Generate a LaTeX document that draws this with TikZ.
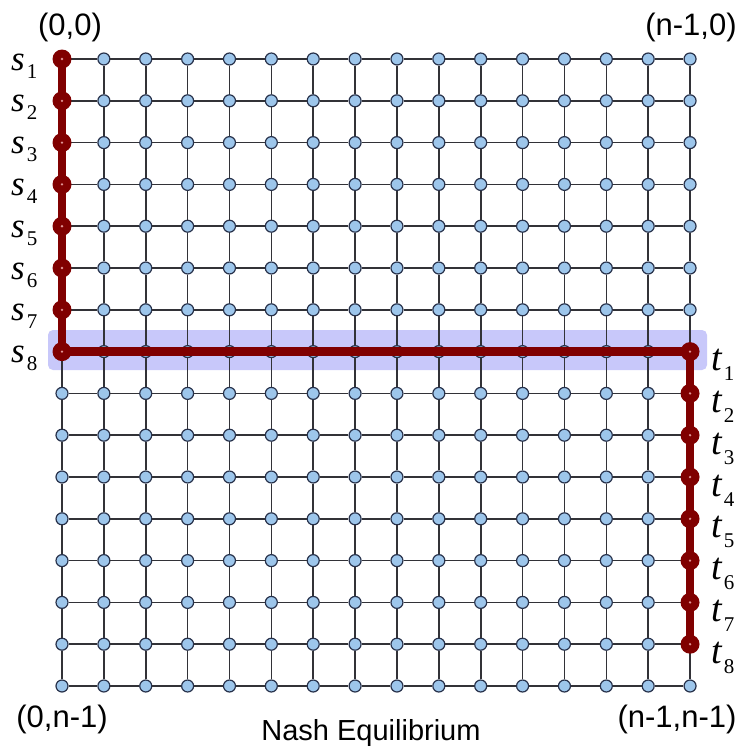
\documentclass[tikz,border=0pt]{standalone}
\usepackage{fontspec}
\setmainfont{Liberation Serif}
\newfontfamily\arialf{Liberation Sans}
\definecolor{gridgray}{RGB}{50,50,55}
\definecolor{nodeedge}{RGB}{40,50,75}
\definecolor{nodeblue}{RGB}{157,198,235}
\definecolor{pathred}{RGB}{128,0,0}
\definecolor{dotpink}{RGB}{225,150,150}
\definecolor{hilite}{RGB}{200,200,250}
\newcommand\SLab[1]{{\fontsize{35}{35}\selectfont\itshape s}\kern2pt\raisebox{-8pt}{\fontsize{21}{21}\selectfont #1}}
\newcommand\TLab[1]{{\fontsize{38}{38}\selectfont\itshape t}\kern2pt\raisebox{-10pt}{\fontsize{21}{21}\selectfont #1}}
\begin{document}
\begin{tikzpicture}[x=1pt,y=-1pt,
  gridline/.style={draw=gridgray,line width=1.6pt},
  bnode/.style={circle,draw=nodeedge,fill=nodeblue,line width=1.2pt,minimum size=12pt,inner sep=0pt},
  rnode/.style={circle,fill=pathred,minimum size=19pt,inner sep=0pt},
  rpath/.style={draw=pathred,line width=8.5pt},
  lab/.style={inner sep=0pt,anchor=base west},
  coord/.style={inner sep=0pt,anchor=base,font=\arialf\fontsize{31}{31}\selectfont},
  title/.style={inner sep=0pt,anchor=base,font=\arialf\fontsize{29}{29}\selectfont}]
\useasboundingbox[fill=white] (0,0) rectangle (747,748);
% highlight band
\fill[hilite,rounded corners=5pt] (48,330) rectangle (707,370);
% grid nodes
\foreach \i in {0,...,15}
  \foreach \j in {0,...,15}
    \node[bnode] (n-\i-\j) at ({62+41.87*\i},{59+41.8*\j}) {};
% grid connectors
\foreach \i in {0,...,14}{
  \pgfmathtruncatemacro\ii{\i+1}
  \foreach \j in {0,...,15}{
    \draw[gridline] (n-\i-\j) -- (n-\ii-\j);
    \draw[gridline] (n-\j-\i) -- (n-\j-\ii);
  }
}
% red path
\draw[rpath] (n-0-0.center) -- (n-0-7.center) -- (n-15-7.center) -- (n-15-14.center);
\foreach \j in {0,...,7}{
  \node[rnode] (r-0-\j) at (n-0-\j) {};
  \fill[dotpink] (r-0-\j) circle (1.3);
}
\foreach \j in {7,...,14}{
  \node[rnode] (r-15-\j) at (n-15-\j) {};
  \fill[dotpink] (r-15-\j) circle (1.3);
}
% s labels
\foreach \k in {1,...,8}
  \node[lab] (s-\k) at (11,{59+41.8*(\k-1)+11}) {\SLab{\k}};
% t labels
\foreach \k in {1,...,8}
  \node[lab] (t-\k) at (711,{59+41.8*(\k+6)+19}) {\TLab{\k}};
% corner labels
\node[coord] (c00) at (70,35) {(0,0)};
\node[coord] (cn0) at (691,35.5) {(n-1,0)};
\node[coord] (c0n) at (62,727) {(0,n-1)};
\node[coord] (cnn) at (677,727) {(n-1,n-1)};
\node[title] (ttl) at (371,740) {Nash Equilibrium};
\end{tikzpicture}
\end{document}
